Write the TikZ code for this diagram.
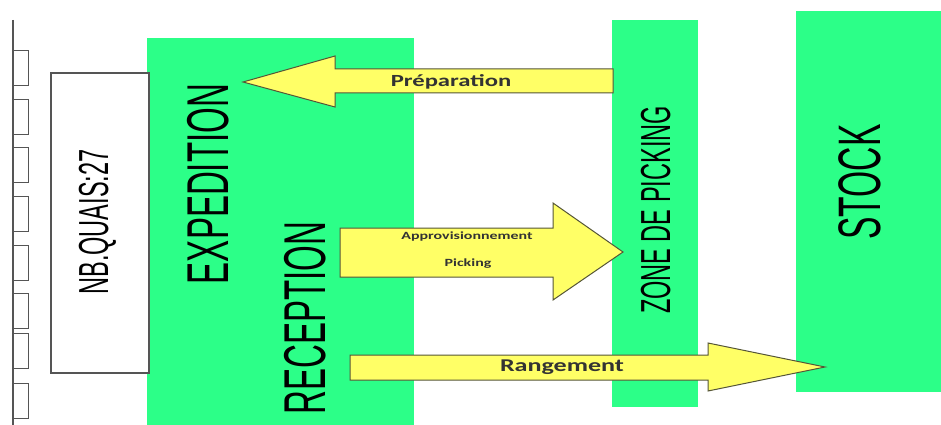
\documentclass[tikz,border=0pt]{standalone}
\usepackage{fontspec}
\usepackage{xcolor}
\usetikzlibrary{positioning}
\newfontfamily\condfont[FakeStretch=0.56]{Liberation Sans}
\newfontfamily\arrowfont[FakeStretch=1.45]{Carlito}
\definecolor{zonegreen}{RGB}{44,255,136}
\definecolor{arrowyellow}{RGB}{255,255,102}
\definecolor{arrowedge}{RGB}{85,85,55}
\definecolor{quaigray}{RGB}{85,85,85}

\begin{document}
\begin{tikzpicture}[
    x=1pt, y=-1pt,
    zonebox/.style={rectangle,fill=zonegreen,inner sep=0pt},
    quaibox/.style={rectangle,draw=quaigray,fill=white,line width=1.2pt,inner sep=0pt},
    dock/.style={rectangle,draw=quaigray,fill=white,line width=1pt,
      minimum width=15pt,minimum height=35pt,inner sep=0pt},
    blockarrow/.style={draw=arrowedge,fill=arrowyellow,line width=1pt},
    vlabel/.style={rotate=90,anchor=base,inner sep=0pt},
    alabel/.style={inner sep=0pt,text=black!80,font=\arrowfont\bfseries\fontsize{17}{17}\selectfont}
  ]
  \useasboundingbox (0,0) rectangle (941,425);

  % zones
  \node[zonebox,minimum width=267pt,minimum height=387pt] (quai) at (280.5,231.5) {};
  \node[zonebox,minimum width=86pt,minimum height=387pt] (picking) at (655,213.5) {};
  \node[zonebox,minimum width=145pt,minimum height=381pt] (stock) at (868.5,201.5) {};
  \node[quaibox,minimum width=98pt,minimum height=300pt] (nb) at (100,223) {};

  % quais
  \draw[quaigray,line width=1.5pt] (13,20) -- (13,425);
  \foreach \y in {50,99,147,196,245,293,333,383}
    \node[dock,anchor=north west] (dock\y) at (13,\y) {};

  % flux
  \draw[blockarrow] (613,69) -- (335,69) -- (335,56) -- (243,82) -- (335,107) -- (335,93) -- (613,93) -- cycle;
  \draw[blockarrow] (340,228) -- (553,228) -- (553,203) -- (623,252) -- (553,300) -- (553,277) -- (340,277) -- cycle;
  \draw[blockarrow] (350,355) -- (708,355) -- (708,343) -- (825,367) -- (708,391) -- (708,380) -- (350,380) -- cycle;

  \node[alabel] (prep) at (451,82) {Préparation};
  \node[alabel,font=\arrowfont\bfseries\fontsize{11}{11}\selectfont] (appro) at (467,237) {Approvisionnement};
  \node[alabel,font=\arrowfont\bfseries\fontsize{11}{11}\selectfont] (pick) at (468,264) {Picking};
  \node[alabel,font=\arrowfont\bfseries\fontsize{18}{18}\selectfont] (rang) at (562,367) {Rangement};

  % libelles
  \node[vlabel,font=\condfont\fontsize{42}{42}\selectfont] (nbtext) at (108,222) {NB.QUAIS:27};
  \node[vlabel,font=\condfont\fontsize{59}{59}\selectfont] (exp) at (228,184) {EXPEDITION};
  \node[vlabel,font=\condfont\fontsize{59}{59}\selectfont] (rec) at (325,318) {RECEPTION};
  \node[vlabel,font=\condfont\fontsize{42}{42}\selectfont] (zone) at (670,210) {ZONE DE PICKING};
  \node[vlabel,font=\condfont\fontsize{60}{60}\selectfont] (stk) at (880,182) {STOCK};
\end{tikzpicture}
\end{document}
